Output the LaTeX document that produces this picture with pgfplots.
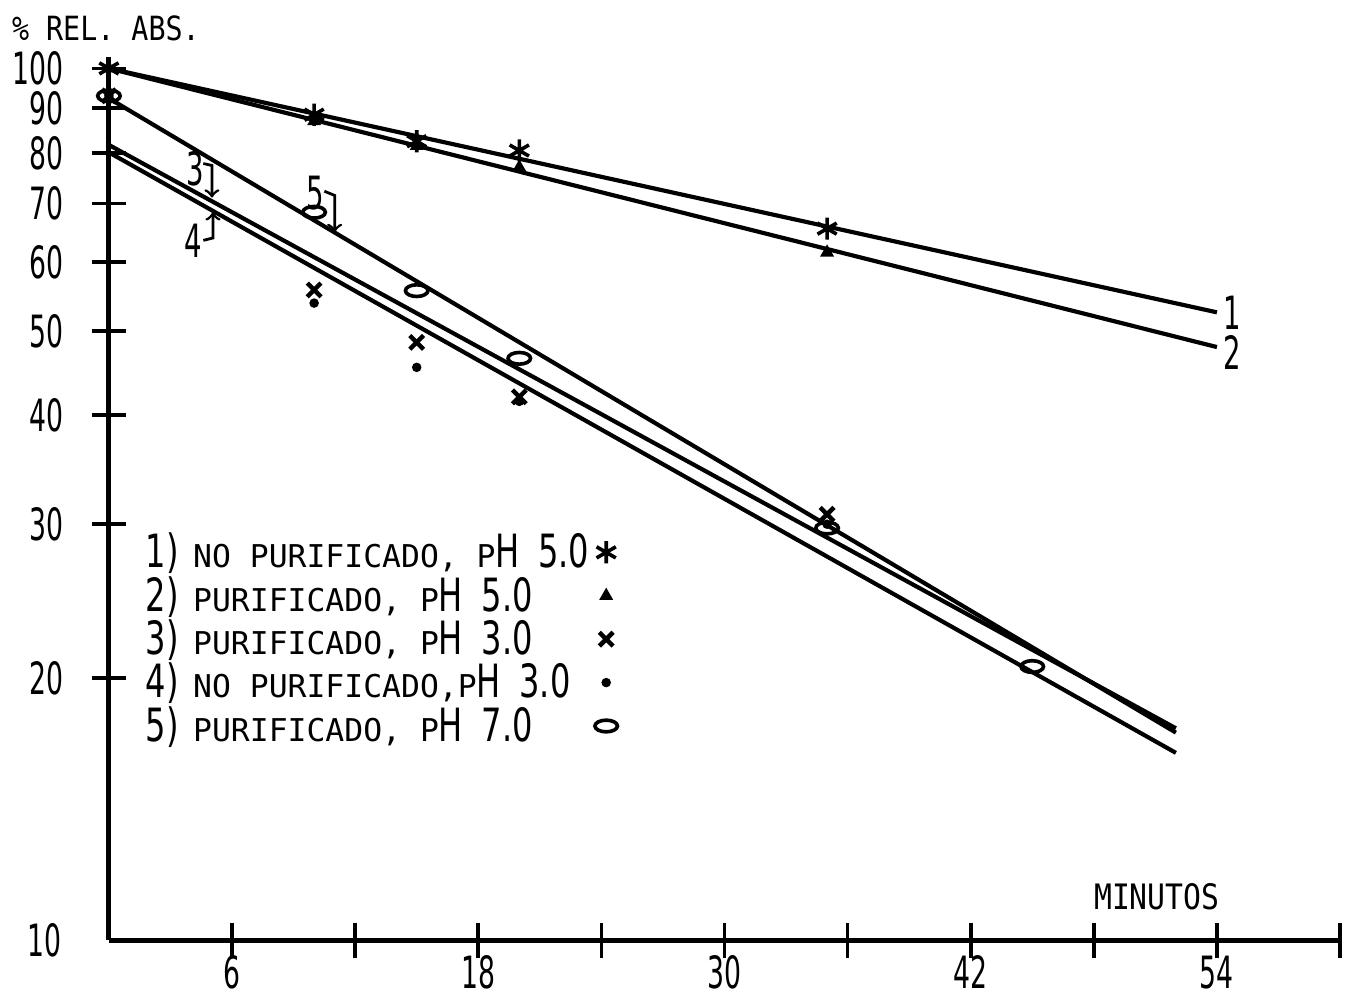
\documentclass[border=0pt]{standalone}
\usepackage{pgfplots}
\pgfplotsset{compat=1.18}
\usepackage{fontspec}
\setmainfont{DejaVu Sans}
\newfontfamily\dig[FakeStretch=0.6]{DejaVu Sans}
\newfontfamily\digl[FakeStretch=0.7]{DejaVu Sans}
\newfontfamily\tw[FakeStretch=0.85]{DejaVu Sans Mono}
\newfontfamily\twl{DejaVu Sans Mono}
\newcommand{\bg}[1]{{\digl\fontsize{16.5}{17}\selectfont #1}}
\newcommand{\sm}[1]{{\twl\fontsize{11.3}{12}\selectfont #1}}
\begin{document}
\begin{tikzpicture}
\begin{axis}[
  at={(0,0)}, anchor=south west,
  scale only axis, width=443pt, height=317.7pt,
  xmin=0, xmax=60, ymin=10, ymax=103,
  ymode=log,
  axis lines=left, axis line style={line width=1.8pt, -},
  tick align=center, major tick length=12.5pt,
  tick style={line width=1.3pt, black},
  xtick={6,12,...,60}, xticklabels={6,,18,,30,,42,,54,},
  ytick={20,30,40,50,60,70,80,90,100},
  yticklabels={20,30,40,50,60,70,80,90,100},
  yminorticks=false,
  ticklabel style={font=\dig\fontsize{16}{17}\selectfont, text depth=0pt, text height=11.8pt},
  yticklabel style={xshift=-6.6pt},
  xticklabel style={inner sep=0pt, yshift=0.7pt},
  clip=false,
  legend plot pos=right, legend cell align=left,
  legend style={draw=none, fill=none, at={(axis cs:1.5,29.8)}, anchor=north west,
    inner sep=0pt, row sep=-2.4pt},
]
\addplot[only marks, mark=asterisk, mark size=4pt, line width=1.3pt]
  coordinates {(0,100)(10,88.5)(15,82.5)(20,80.5)(35,65.5)};
\addlegendentry{\bg{1)}\hspace{2pt} \sm{NO PURIFICADO, P}\bg{H\hspace{3pt} 5.0}}
\addplot[only marks, mark=triangle*, mark size=2.5pt]
  coordinates {(0,100)(10,87)(15,81.5)(20,77)(35,61.5)};
\addlegendentry{\bg{2)}\hspace{2pt} \sm{PURIFICADO, P}\bg{H\hspace{3pt} 5.0}}
\addplot[only marks, mark=x, mark size=3.5pt, line width=1.6pt]
  coordinates {(0,93)(10,55.7)(15,48.5)(20,42)(35,30.8)};
\addlegendentry{\bg{3)}\hspace{2pt} \sm{PURIFICADO, P}\bg{H\hspace{3pt} 3.0}}
\addplot[only marks, mark=*, mark size=1.5pt]
  coordinates {(0,93)(10,53.8)(15,45.4)(20,41.5)(35,30)};
\addlegendentry{\bg{4)}\hspace{2pt} \sm{NO PURIFICADO,P}\bg{H\hspace{3pt} 3.0}}
\addplot[only marks, mark=o, mark size=3pt, line width=1.3pt, mark options={xscale=1.35,yscale=0.7}]
  coordinates {(0,93)(10,68.4)(15,55.6)(20,46.5)(35,29.7)(45,20.6)};
\addlegendentry{\bg{5)}\hspace{2pt} \sm{PURIFICADO, P}\bg{H\hspace{3pt} 7.0}}
% fitted lines
\addplot[line width=1.5pt, forget plot] coordinates {(0,100)(54,52.5)};
\addplot[line width=1.5pt, forget plot] coordinates {(0,100)(54,47.9)};
\addplot[line width=1.5pt, forget plot] coordinates {(0,92.4)(52,17.3)};
\addplot[line width=1.5pt, forget plot] coordinates {(0,81.7)(52,17.5)};
\addplot[line width=1.5pt, forget plot] coordinates {(0,80.1)(52,16.4)};
% annotations
\node[anchor=east, inner sep=0pt, text depth=0pt, text height=11.8pt, font=\dig\fontsize{16}{17}\selectfont] at (axis cs:-2.29,10) {10};
\node[anchor=west, inner sep=0pt, text depth=0pt, text height=12pt, font=\dig\fontsize{16.5}{17}\selectfont] at (axis cs:54.3,52.5) {1};
\node[anchor=west, inner sep=0pt, text depth=0pt, text height=12pt, font=\dig\fontsize{16.5}{17}\selectfont] at (axis cs:54.3,47.2) {2};
\node[inner sep=0pt, font=\dig\fontsize{16.5}{17}\selectfont] at (axis cs:4.19,76.8) {3};
\draw[line width=1pt, ->] (axis cs:4.6,77.8) -- (axis cs:5.02,77.4) -- (axis cs:5.02,71.1);
\node[inner sep=0pt, font=\dig\fontsize{16.5}{17}\selectfont] at (axis cs:4.09,63.5) {4};
\draw[line width=1pt, ->] (axis cs:4.6,63.5) -- (axis cs:5.07,63.9) -- (axis cs:5.07,68.4);
\node[inner sep=0pt, font=\dig\fontsize{16.5}{17}\selectfont] at (axis cs:10.04,71.9) {5};
\draw[line width=1pt, ->] (axis cs:10.5,72.3) -- (axis cs:11.0,71.5) -- (axis cs:11.0,64.9);
\node[anchor=west, inner sep=0pt, font=\tw\fontsize{12}{13}\selectfont] at (axis cs:-4.75,111.1) {\% REL. ABS.};
\node[inner sep=0pt, font=\tw\fontsize{12.6}{13}\selectfont] at (axis cs:51.07,11.2) {MINUTOS};
\end{axis}
\pgfresetboundingbox
\useasboundingbox (-39.2pt,-20.5pt) rectangle (445.5pt,338.3pt);
\end{tikzpicture}
\end{document}
